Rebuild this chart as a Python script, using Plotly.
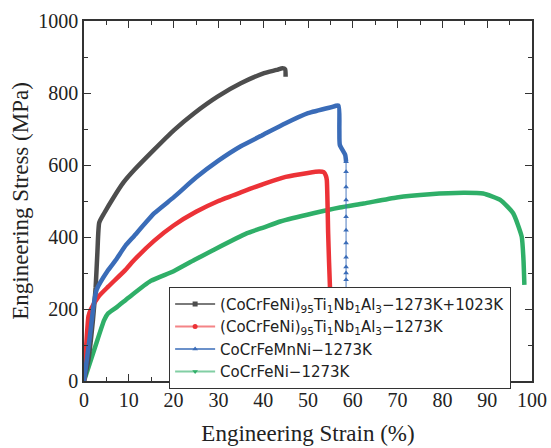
import plotly.graph_objects as go

# Engineering stress-strain curves (strain in %, stress in MPa)
black_x = [0, 1.0, 2.0, 2.6, 3.0, 3.4, 4.5, 6.7, 8.9, 11.2, 15.6, 20.1, 24.6, 29.8, 35.0, 40.2, 43.0, 44.3, 44.9, 45.0]
black_y = [0, 60, 170, 260, 360, 440, 466, 512, 553, 586, 642, 697, 744, 790, 827, 855, 864, 869, 866, 845]

red_x = [0, 0.5, 1.0, 1.5, 3.2, 5.4, 9.2, 11.2, 15.7, 20, 25, 30, 35, 40, 45, 50, 52.5, 53.5, 54.0,
         54.2, 54.5, 54.7, 54.9, 55.1, 55.3, 55.5]
red_y = [0, 100, 180, 198, 234, 262, 308, 336, 390, 432, 470, 500, 524, 547, 567, 578, 582, 580, 570,
         558, 410, 330, 262, 190, 100, 0]

blue_x = [0, 1.3, 2.1, 2.8, 5.4, 7.1, 9.2, 11.2, 15.7, 20, 25, 30, 35, 40, 45, 50, 55, 56.8, 57.0, 57.1, 58.3, 58.5]
blue_y = [0, 123, 206, 253, 308, 336, 375, 403, 466, 510, 565, 612, 652, 684, 716, 744, 760, 765, 700, 656, 628, 609]
blue_drop_x = [58.5] * 20
blue_drop_y = [609, 581, 539, 503, 456, 419, 383, 344, 317, 300, 281, 250, 220, 190, 160, 130, 100, 70, 40, 10]

green_x = [0, 2.5, 4.5, 5.4, 7.4, 10, 14.9, 20, 24.6, 28.9, 36.3, 40.2, 43.8, 51.2, 57.1, 62.4, 69.8,
           77.2, 84.7, 89.1, 92.9, 95.8, 97.7, 98.1, 98.3]
green_y = [0, 95, 169, 188, 206, 232, 278, 305, 336, 364, 410, 427, 443, 466, 482, 493, 510,
           519, 523, 521, 503, 466, 401, 336, 267]

names = [
    "(CoCrFeNi)<sub>95</sub>Ti<sub>1</sub>Nb<sub>1</sub>Al<sub>3</sub>−1273K+1023K",
    "(CoCrFeNi)<sub>95</sub>Ti<sub>1</sub>Nb<sub>1</sub>Al<sub>3</sub>−1273K",
    "CoCrFeMnNi−1273K",
    "CoCrFeNi−1273K",
]
colors = ["#4d4d4d", "#ec3237", "#3a6cb8", "#2faf68"]
legend_line = ["rgba(77,77,77,0.75)", "rgba(236,50,55,0.6)", "rgba(58,108,184,0.75)", "rgba(47,175,104,0.6)"]
symbols = ["square", "circle", "triangle-up", "triangle-down"]

fig = go.Figure()

series = [(black_x, black_y), (red_x, red_y), (blue_x, blue_y), (green_x, green_y)]

# draw green first so the others sit on top of it
for i in [3, 0, 1, 2]:
    xs, ys = series[i]
    fig.add_trace(go.Scatter(
        x=xs, y=ys, mode="lines", showlegend=False,
        line=dict(color=colors[i], width=4.5, shape="spline", smoothing=0.5),
    ))

# fast fracture drop of CoCrFeMnNi: sparse points joined by a thin line
fig.add_trace(go.Scatter(
    x=blue_drop_x, y=blue_drop_y, mode="lines+markers", showlegend=False,
    line=dict(color="rgba(58,108,184,0.6)", width=1.5),
    marker=dict(symbol="triangle-up", size=5, color=colors[2]),
))

# legend entries
for i in range(4):
    fig.add_trace(go.Scatter(
        x=[None], y=[None], mode="lines+markers", name=names[i],
        line=dict(color=legend_line[i], width=2),
        marker=dict(symbol=symbols[i], size=5, color=colors[i]),
    ))

axis_common = dict(
    showline=True, linecolor="#333333", linewidth=1.5, mirror="ticks",
    ticks="inside", ticklen=7, tickwidth=1.2, tickcolor="#333333",
    showgrid=False, zeroline=False, automargin=False,
    tickfont=dict(family="Liberation Serif", size=20, color="#222222"),
)

fig.update_xaxes(
    range=[0, 100], dtick=10, tick0=0,
    minor=dict(ticks="inside", dtick=5, ticklen=4, tickcolor="#333333"),
    title=dict(text="Engineering Strain (%)", font=dict(family="Liberation Serif", size=23, color="#222222")),
    **axis_common,
)
fig.update_yaxes(
    range=[0, 1000], dtick=200, tick0=0,
    minor=dict(ticks="inside", dtick=100, ticklen=4, tickcolor="#333333"),
    title=dict(text="Engineering Stress (MPa)", font=dict(family="Liberation Serif", size=23, color="#222222"),
               standoff=3),
    **axis_common,
)

fig.update_layout(
    width=551, height=448,
    margin=dict(l=84, r=19, t=21, b=67),
    plot_bgcolor="white", paper_bgcolor="white",
    legend=dict(
        x=0.19, y=0.262, xanchor="left", yanchor="top",
        bgcolor="white", bordercolor="#333333", borderwidth=1,
        font=dict(family="DejaVu Sans", size=15, color="#222222"),
        itemwidth=40, tracegroupgap=0,
    ),
)

fig.write_html("out.html")
